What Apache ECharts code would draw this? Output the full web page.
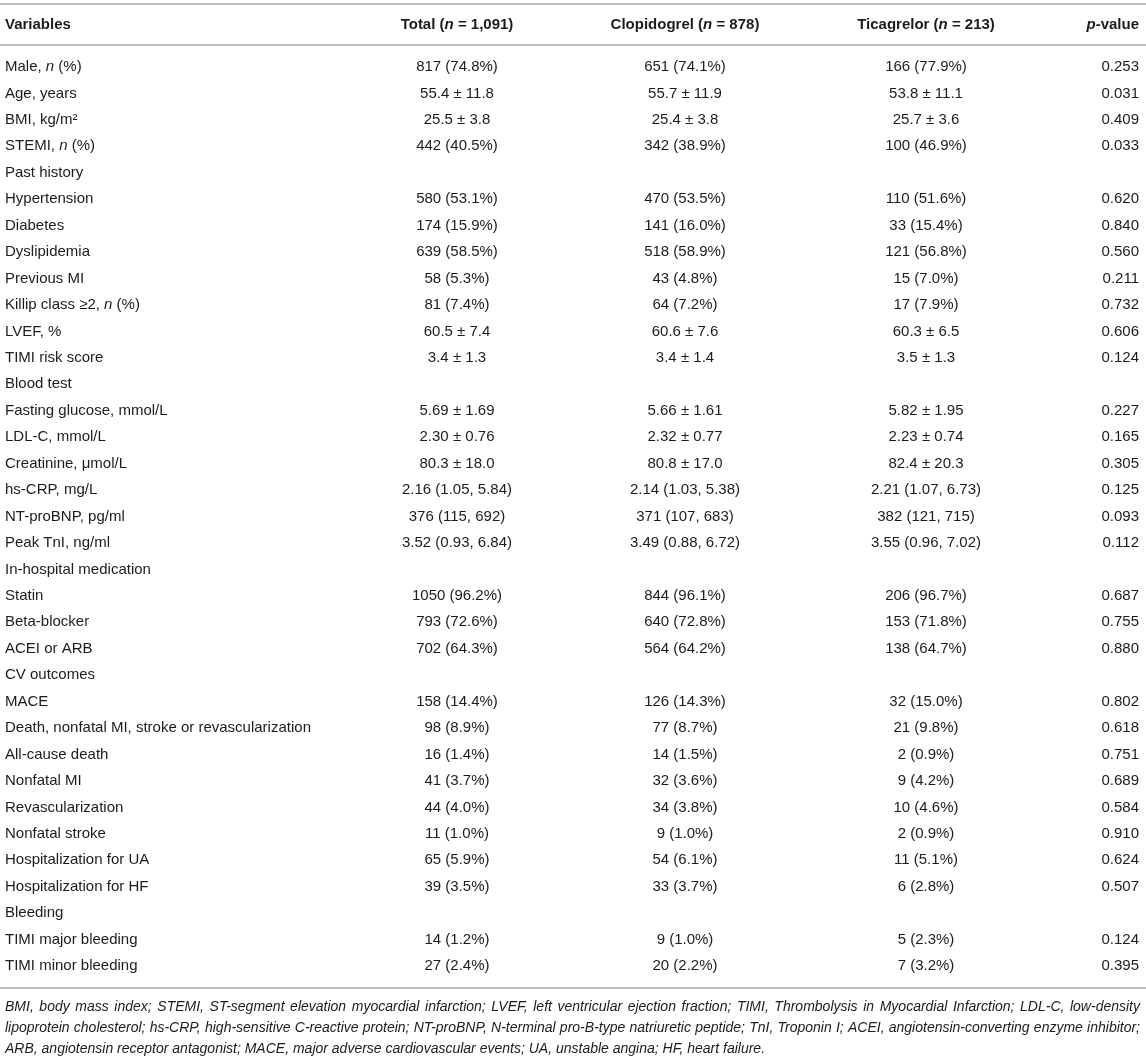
<!DOCTYPE html>
<html>
<head>
<meta charset="utf-8">
<script src="https://cdn.jsdelivr.net/npm/echarts@6/dist/echarts.min.js"></script>
<style>html,body{margin:0;padding:0;background:#fff;}#c{width:1146px;height:1056px;}</style>
</head>
<body>
<div id="c"></div>
<script>
// ---- data ----
const headers = ['Variables', 'Total ({i|n} = 1,091)', 'Clopidogrel ({i|n} = 878)', 'Ticagrelor ({i|n} = 213)', '{i|p}-value'];

const variables = [
  'Male, {i|n} (%)', 'Age, years', 'BMI, kg/m²', 'STEMI, {i|n} (%)', 'Past history',
  'Hypertension', 'Diabetes', 'Dyslipidemia', 'Previous MI', 'Killip class ≥2, {i|n} (%)',
  'LVEF, %', 'TIMI risk score', 'Blood test', 'Fasting glucose, mmol/L', 'LDL-C, mmol/L',
  'Creatinine, μmol/L', 'hs-CRP, mg/L', 'NT-proBNP, pg/ml', 'Peak TnI, ng/ml', 'In-hospital medication',
  'Statin', 'Beta-blocker', 'ACEI or ARB', 'CV outcomes', 'MACE',
  'Death, nonfatal MI, stroke or revascularization', 'All-cause death', 'Nonfatal MI', 'Revascularization', 'Nonfatal stroke',
  'Hospitalization for UA', 'Hospitalization for HF', 'Bleeding', 'TIMI major bleeding', 'TIMI minor bleeding'
];

const totalVals = [
  '817 (74.8%)', '55.4 ± 11.8', '25.5 ± 3.8', '442 (40.5%)', '',
  '580 (53.1%)', '174 (15.9%)', '639 (58.5%)', '58 (5.3%)', '81 (7.4%)',
  '60.5 ± 7.4', '3.4 ± 1.3', '', '5.69 ± 1.69', '2.30 ± 0.76',
  '80.3 ± 18.0', '2.16 (1.05, 5.84)', '376 (115, 692)', '3.52 (0.93, 6.84)', '',
  '1050 (96.2%)', '793 (72.6%)', '702 (64.3%)', '', '158 (14.4%)',
  '98 (8.9%)', '16 (1.4%)', '41 (3.7%)', '44 (4.0%)', '11 (1.0%)',
  '65 (5.9%)', '39 (3.5%)', '', '14 (1.2%)', '27 (2.4%)'
];

const clopidogrelVals = [
  '651 (74.1%)', '55.7 ± 11.9', '25.4 ± 3.8', '342 (38.9%)', '',
  '470 (53.5%)', '141 (16.0%)', '518 (58.9%)', '43 (4.8%)', '64 (7.2%)',
  '60.6 ± 7.6', '3.4 ± 1.4', '', '5.66 ± 1.61', '2.32 ± 0.77',
  '80.8 ± 17.0', '2.14 (1.03, 5.38)', '371 (107, 683)', '3.49 (0.88, 6.72)', '',
  '844 (96.1%)', '640 (72.8%)', '564 (64.2%)', '', '126 (14.3%)',
  '77 (8.7%)', '14 (1.5%)', '32 (3.6%)', '34 (3.8%)', '9 (1.0%)',
  '54 (6.1%)', '33 (3.7%)', '', '9 (1.0%)', '20 (2.2%)'
];

const ticagrelorVals = [
  '166 (77.9%)', '53.8 ± 11.1', '25.7 ± 3.6', '100 (46.9%)', '',
  '110 (51.6%)', '33 (15.4%)', '121 (56.8%)', '15 (7.0%)', '17 (7.9%)',
  '60.3 ± 6.5', '3.5 ± 1.3', '', '5.82 ± 1.95', '2.23 ± 0.74',
  '82.4 ± 20.3', '2.21 (1.07, 6.73)', '382 (121, 715)', '3.55 (0.96, 7.02)', '',
  '206 (96.7%)', '153 (71.8%)', '138 (64.7%)', '', '32 (15.0%)',
  '21 (9.8%)', '2 (0.9%)', '9 (4.2%)', '10 (4.6%)', '2 (0.9%)',
  '11 (5.1%)', '6 (2.8%)', '', '5 (2.3%)', '7 (3.2%)'
];

const pVals = [
  '0.253', '0.031', '0.409', '0.033', '',
  '0.620', '0.840', '0.560', '0.211', '0.732',
  '0.606', '0.124', '', '0.227', '0.165',
  '0.305', '0.125', '0.093', '0.112', '',
  '0.687', '0.755', '0.880', '', '0.802',
  '0.618', '0.751', '0.689', '0.584', '0.910',
  '0.624', '0.507', '', '0.124', '0.395'
];

const footnoteLines = [
  'BMI, body mass index; STEMI, ST-segment elevation myocardial infarction; LVEF, left ventricular ejection fraction; TIMI, Thrombolysis in Myocardial Infarction; LDL-C, low-density',
  'lipoprotein cholesterol; hs-CRP, high-sensitive C-reactive protein; NT-proBNP, N-terminal pro-B-type natriuretic peptide; TnI, Troponin I; ACEI, angiotensin-converting enzyme inhibitor;',
  'ARB, angiotensin receptor antagonist; MACE, major adverse cardiovascular events; UA, unstable angina; HF, heart failure.'
];

// ---- layout ----
const W = 1146;
const FONT = '"Liberation Sans", Arial, Helvetica, sans-serif';
const TEXT_COLOR = '#1c1c1c';
const LINE_COLOR = '#a8a8a8';
const colAnchor = [5, 457, 685, 926, 1139];
const colAlign = ['left', 'center', 'center', 'center', 'right'];
const columns = [variables, totalVals, clopidogrelVals, ticagrelorVals, pVals];

const cells = [];
columns.forEach((col, c) => col.forEach((t, r) => { if (t !== '') cells.push({ c: c, r: r, text: t }); }));

function richFor(bold) {
  const w = bold ? 'bold' : 'normal';
  return {
    i: { fontStyle: 'italic', fontWeight: w, fontSize: 15, fontFamily: FONT, fill: TEXT_COLOR, color: TEXT_COLOR }
  };
}

function textEl(x, y, text, align, bold) {
  return {
    type: 'text',
    x: x, y: y,
    style: {
      text: text,
      fill: TEXT_COLOR,
      fontSize: 15,
      fontFamily: FONT,
      fontWeight: bold ? 'bold' : 'normal',
      align: align, textAlign: align,
      verticalAlign: 'middle', textVerticalAlign: 'middle',
      rich: richFor(bold)
    }
  };
}

const chart = echarts.init(document.getElementById('c'), null, { renderer: 'canvas' });

const axisLineStyle = { show: true, onZero: false, lineStyle: { color: LINE_COLOR, width: 1.5 } };
function hiddenX(gridIndex, position, showLine) {
  return {
    type: 'value', gridIndex: gridIndex, position: position, min: 0, max: W,
    axisLine: showLine ? axisLineStyle : { show: false },
    axisTick: { show: false }, axisLabel: { show: false }, splitLine: { show: false }
  };
}

// justified footnote words
const measureCtx = document.createElement('canvas').getContext('2d');
const FN_SIZE = 14;
measureCtx.font = 'italic ' + FN_SIZE + 'px ' + FONT;
const fnTop = 1007, fnPitch = 21.5, fnLeft = 5, fnRight = 1140;
const footnoteGraphics = [];
footnoteLines.forEach((line, li) => {
  const y = fnTop + li * fnPitch;
  const justify = li < footnoteLines.length - 1;
  if (!justify) {
    footnoteGraphics.push({ type: 'text', left: fnLeft, top: y - 8, style: { text: line, fill: TEXT_COLOR, font: 'italic ' + FN_SIZE + 'px ' + FONT } });
    return;
  }
  const words = line.split(' ');
  const widths = words.map(w => measureCtx.measureText(w).width);
  const sum = widths.reduce((a, b) => a + b, 0);
  const gap = (fnRight - fnLeft - sum) / (words.length - 1);
  let x = fnLeft;
  words.forEach((w, wi) => {
    footnoteGraphics.push({ type: 'text', x: x, y: y, style: { text: w, fill: TEXT_COLOR, font: 'italic ' + FN_SIZE + 'px ' + FONT, textVerticalAlign: 'middle', verticalAlign: 'middle' } });
    x += widths[wi] + gap;
  });
});

chart.setOption({
  animation: false,
  backgroundColor: '#fff',
  grid: [
    { left: 0, right: 0, top: 4, height: 41 },
    { left: 0, right: 0, top: 45, height: 943 }
  ],
  xAxis: [
    hiddenX(0, 'top', true),
    hiddenX(1, 'top', true),
    hiddenX(1, 'bottom', true)
  ],
  yAxis: [
    { type: 'value', gridIndex: 0, min: 0, max: 1, inverse: true, show: false },
    { type: 'value', gridIndex: 1, min: -0.83, max: 34.83, inverse: true, show: false }
  ],
  series: [
    {
      type: 'custom', xAxisIndex: 0, yAxisIndex: 0,
      data: headers.map((h, i) => [i, 0.5]),
      renderItem: function (params, api) {
        const c = api.value(0);
        const p = api.coord([colAnchor[c], api.value(1)]);
        return textEl(p[0], p[1], headers[c], colAlign[c], true);
      }
    },
    {
      type: 'custom', xAxisIndex: 1, yAxisIndex: 1,
      data: cells.map(d => [d.c, d.r]),
      renderItem: function (params, api) {
        const d = cells[params.dataIndex];
        const p = api.coord([colAnchor[d.c], api.value(1)]);
        return textEl(p[0], p[1], d.text, colAlign[d.c], false);
      }
    }
  ],
  graphic: footnoteGraphics
});
</script>
</body>
</html>
